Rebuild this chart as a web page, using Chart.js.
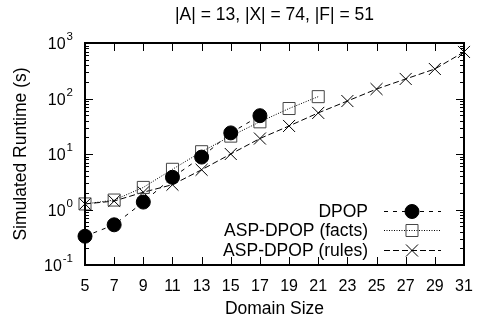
<!DOCTYPE html>
<html>
<head>
<meta charset="utf-8">
<script src="https://cdn.jsdelivr.net/npm/chart.js@4/dist/chart.umd.min.js"></script>
<style>
  html, body { margin: 0; padding: 0; background: #fff; }
  #wrap { width: 479px; height: 324px; }
</style>
</head>
<body>
<div id="wrap"><canvas id="runtimeChart"></canvas></div>
<script>
const domainSizes = [5, 7, 9, 11, 13, 15, 17, 19, 21, 23, 25, 27, 29, 31];
const dpopTimes = [0.33, 0.53, 1.36, 3.8, 8.8, 24, 49];
const factsTimes = [1.26, 1.48, 2.5, 5.3, 11, 21, 38, 66, 108];
const rulesTimes = [1.26, 1.42, 2.05, 2.8, 5.2, 10, 19, 32, 55, 90, 148, 225, 340, 690];
const yMajorTicks = [0.1, 1, 10, 100, 1000];
const yTickExponents = ['-1', '0', '1', '2', '3'];
const chartTitle = '|A| = 13, |X| = 74, |F| = 51';
const seriesNames = ['DPOP', 'ASP-DPOP (facts)', 'ASP-DPOP (rules)'];

const FONT = "'Liberation Sans', Arial, sans-serif";

function toPoints(values) {
    return values.map((v, i) => ({ x: domainSizes[i], y: v }));
}

// gnuplot-like frame and inward ticks, drawn on top of everything
const gnuplotFrame = {
    id: 'gnuplotFrame',
    afterDraw(chart) {
        const ctx = chart.ctx;
        const xs = chart.scales.x;
        const ys = chart.scales.y;
        const L = Math.round(xs.getPixelForValue(5));
        const R = Math.round(xs.getPixelForValue(31));
        const T = Math.round(ys.getPixelForValue(1000));
        const B = Math.round(ys.getPixelForValue(0.1));
        ctx.save();
        ctx.setLineDash([]);
        ctx.strokeStyle = '#000';

        ctx.lineWidth = 1;
        ctx.beginPath();
        domainSizes.forEach(d => {
            const px = Math.round(xs.getPixelForValue(d)) + 0.5;
            ctx.moveTo(px, B); ctx.lineTo(px, B - 8);
            ctx.moveTo(px, T); ctx.lineTo(px, T + 8);
        });
        for (let e = -1; e <= 3; e++) {
            for (let m = 1; m <= 9; m++) {
                const v = m * Math.pow(10, e);
                if (v > 1000) continue;
                const py = Math.round(ys.getPixelForValue(v)) + 0.5;
                const len = m === 1 ? 8 : 4;
                ctx.moveTo(L, py); ctx.lineTo(L + len, py);
                ctx.moveTo(R, py); ctx.lineTo(R - len, py);
            }
        }
        ctx.stroke();

        ctx.lineWidth = 2;
        ctx.beginPath();
        ctx.moveTo(L, T); ctx.lineTo(R, T); ctx.lineTo(R, B); ctx.lineTo(L, B);
        ctx.closePath();
        ctx.stroke();
        ctx.restore();
    }
};

// title, y tick labels with exponents, in-plot legend
const gnuplotText = {
    id: 'gnuplotText',
    afterDraw(chart) {
        const ctx = chart.ctx;
        const xs = chart.scales.x;
        const ys = chart.scales.y;
        const L = Math.round(xs.getPixelForValue(5));
        const R = Math.round(xs.getPixelForValue(31));
        ctx.save();
        ctx.fillStyle = '#000';
        ctx.textBaseline = 'middle';
        yMajorTicks.forEach((v, i) => {
            const py = ys.getPixelForValue(v);
            const right = L - 12;
            ctx.font = '11.5px ' + FONT;
            const expW = ctx.measureText(yTickExponents[i]).width;
            ctx.textAlign = 'left';
            ctx.fillText(yTickExponents[i], right - expW, py - 6);
            ctx.font = '16px ' + FONT;
            ctx.textAlign = 'right';
            ctx.fillText('10', right - expW - 1, py + 2);
        });

        ctx.font = '17.5px ' + FONT;
        ctx.textAlign = 'center';
        ctx.fillText(chartTitle, (L + R) / 2, 15);

        chart.data.datasets.forEach((ds, i) => {
            const y = Math.round(210.5 + i * 19.5) + 0.5;
            ctx.font = '17.5px ' + FONT;
            ctx.textAlign = 'right';
            ctx.fillStyle = '#000';
            ctx.fillText(seriesNames[i], 368, y + 1);
            ctx.beginPath();
            ctx.setLineDash(ds.borderDash);
            ctx.strokeStyle = '#000';
            ctx.lineWidth = 1;
            ctx.moveTo(384, y); ctx.lineTo(441, y);
            ctx.stroke();
            ctx.setLineDash([]);
            ctx.fillStyle = ds.pointBackgroundColor;
            ctx.strokeStyle = ds.pointBorderColor;
            Chart.helpers.drawPoint(ctx, {
                pointStyle: ds.pointStyle,
                radius: ds.pointRadius,
                borderWidth: 1
            }, 412, y);
        });
        ctx.restore();
    }
};

new Chart(document.getElementById('runtimeChart'), {
    type: 'line',
    data: {
        datasets: [
            {
                label: seriesNames[0],
                data: toPoints(dpopTimes),
                borderColor: '#000',
                borderWidth: 1,
                borderDash: [4, 5],
                pointStyle: 'circle',
                pointRadius: 7,
                pointBackgroundColor: '#000',
                pointBorderColor: '#000',
                pointBorderWidth: 1,
                clip: false
            },
            {
                label: seriesNames[1],
                data: toPoints(factsTimes),
                borderColor: '#000',
                borderWidth: 1,
                borderDash: [1, 1.5],
                pointStyle: 'rect',
                pointRadius: 8.5,
                pointBackgroundColor: 'rgba(255,255,255,0)',
                pointBorderColor: '#444',
                pointBorderWidth: 1,
                clip: false
            },
            {
                label: seriesNames[2],
                data: toPoints(rulesTimes),
                borderColor: '#000',
                borderWidth: 1,
                borderDash: [6, 3],
                pointStyle: 'crossRot',
                pointRadius: 8.5,
                pointBackgroundColor: '#000',
                pointBorderColor: '#000',
                pointBorderWidth: 1,
                clip: false
            }
        ]
    },
    options: {
        responsive: true,
        maintainAspectRatio: false,
        animation: false,
        events: [],
        layout: { padding: { top: 43, right: 15, left: 0, bottom: 0 } },
        plugins: {
            legend: { display: false },
            title: { display: false },
            tooltip: { enabled: false }
        },
        scales: {
            x: {
                type: 'linear',
                min: 5,
                max: 31,
                grid: { display: false },
                border: { display: false },
                afterBuildTicks(scale) {
                    scale.ticks = domainSizes.map(v => ({ value: v }));
                },
                afterFit(scale) { scale.height = 59; },
                ticks: {
                    color: '#000',
                    font: { family: FONT, size: 16 },
                    padding: 4,
                    maxRotation: 0,
                    autoSkip: false
                },
                title: {
                    display: true,
                    text: 'Domain Size',
                    color: '#000',
                    font: { family: FONT, size: 17.5 },
                    padding: { top: 0, bottom: 4 }
                }
            },
            y: {
                type: 'logarithmic',
                min: 0.1,
                max: 1000,
                grid: { display: false },
                border: { display: false },
                afterFit(scale) { scale.width = 85; },
                ticks: { display: false },
                title: {
                    display: true,
                    text: 'Simulated Runtime (s)',
                    color: '#000',
                    font: { family: FONT, size: 17.5 },
                    padding: { top: 11, bottom: 0 }
                }
            }
        }
    },
    plugins: [gnuplotFrame, gnuplotText]
});
</script>
</body>
</html>
